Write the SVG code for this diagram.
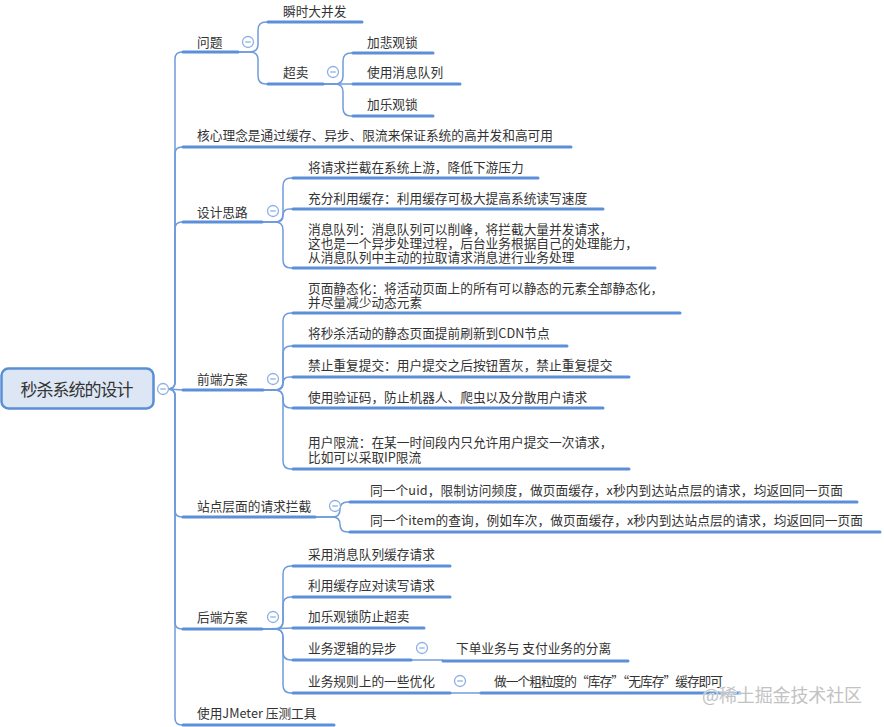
<svg xmlns="http://www.w3.org/2000/svg" width="884" height="727" viewBox="0 0 884 727">
<style>
.t{font-family:"Noto Sans CJK SC","Noto Sans",sans-serif;font-size:12.7px;fill:#333}
.root{font-family:"Noto Sans CJK SC","Noto Sans",sans-serif;font-size:17px;fill:#333;text-anchor:middle}
.u{stroke:#5b8fd8;stroke-width:3;stroke-linecap:round;fill:none}
.c{fill:none;stroke:#6f9bdc;stroke-width:1.5}
.b{fill:#fff;stroke:#8db0e3;stroke-width:1.3}
.bm{stroke:#8db0e3;stroke-width:1.3}
.wm{font-family:"Noto Sans CJK SC","Noto Sans",sans-serif;font-size:18px;fill:#c2c2c2;stroke:#fff;stroke-width:0.6;paint-order:stroke}
</style>
<defs>
<g id="btn"><circle class="b" cx="0" cy="0" r="5.5"/><line class="bm" x1="-2.8" y1="0" x2="2.8" y2="0"/></g>
</defs>
<rect width="884" height="727" fill="#fff"/>

<g id="connectors">
<path class="c" d="M163 389 L168 389"/>
<path class="c" d="M168 389 Q175 389 175 382 L175 59 Q175 52 182 52 L183 52"/>
<path class="c" d="M168 389 Q175 389 175 382 L175 154 Q175 147 182 147 L183 147"/>
<path class="c" d="M168 389 Q175 389 175 382 L175 229 Q175 222 182 222 L183 222"/>
<path class="c" d="M168 389 L183 390"/>
<path class="c" d="M168 389 Q175 389 175 396 L175 510 Q175 517 182 517 L183 517"/>
<path class="c" d="M168 389 Q175 389 175 396 L175 622 Q175 629 182 629 L183 629"/>
<path class="c" d="M168 389 Q175 389 175 396 L175 718 Q175 725 182 725 L183 725"/>

<path class="c" d="M238 52 L250 52 Q258 52 258 44 L258 30 Q258 22 266 22 L268 22"/>
<path class="c" d="M238 52 L250 52 Q258 52 258 60 L258 76 Q258 84 266 84 L268 84"/>

<path class="c" d="M323 84 L335 84 Q343 84 343 76 L343 61 Q343 53 351 53 L353 53"/>
<path class="c" d="M323 84 L353 84"/>
<path class="c" d="M323 84 L335 84 Q343 84 343 92 L343 108 Q343 116 351 116 L353 116"/>

<path class="c" d="M262 222 L275 222 Q283 222 283 214 L283 186 Q283 178 291 178 L293 178"/>
<path class="c" d="M262 222 L276.5 222 Q283 222 283 215.5 Q283 209 289.5 209 L293 209"/>
<path class="c" d="M262 222 L275 222 Q283 222 283 230 L283 260 Q283 268 291 268 L293 268"/>

<path class="c" d="M263 390 L275 390 Q283 390 283 382 L283 321 Q283 313 291 313 L293 313"/>
<path class="c" d="M263 390 L275 390 Q283 390 283 382 L283 354 Q283 346 291 346 L293 346"/>
<path class="c" d="M263 390 L276.5 390 Q283 390 283 383.5 Q283 377 289.5 377 L293 377"/>
<path class="c" d="M263 390 L275 390 Q283 390 283 398 L283 400 Q283 408 291 408 L293 408"/>
<path class="c" d="M263 390 L275 390 Q283 390 283 398 L283 461 Q283 469 291 469 L293 469"/>

<path class="c" d="M315 517 L332.5 517 Q340 517 340 509.5 Q340 502 347.5 502 L350 502"/>
<path class="c" d="M315 517 L332.5 517 Q340 517 340 524.5 Q340 532 347.5 532 L350 532"/>

<path class="c" d="M262 629 L275 629 Q283 629 283 621 L283 574 Q283 566 291 566 L293 566"/>
<path class="c" d="M262 629 L275 629 Q283 629 283 621 L283 605 Q283 597 291 597 L293 597"/>
<path class="c" d="M262 629 L293 628"/>
<path class="c" d="M262 629 L275 629 Q283 629 283 637 L283 652 Q283 660 291 660 L293 660"/>
<path class="c" d="M262 629 L275 629 Q283 629 283 637 L283 685 Q283 693 291 693 L293 693"/>

<path class="c" d="M411 660 L443 660"/>
<path class="c" d="M450 693 L481 693"/>
</g>

<g id="root">
<rect x="1.5" y="368.5" width="152" height="40" rx="7" fill="#dce6f4" stroke="#5a8fd6" stroke-width="2.5"/>
<text class="root" x="77" y="395.5" textLength="113">秒杀系统的设计</text>
<use href="#btn" x="163" y="389"/>
</g>

<g id="n-wenti">
<line class="u" x1="183" y1="52" x2="238" y2="52"/>
<text class="t" x="197" y="46.8">问题</text>
<use href="#btn" x="248" y="42"/>
</g>
<g id="n-shunshi">
<line class="u" x1="268" y1="22" x2="362" y2="22"/>
<text class="t" x="283" y="15.8">瞬时大并发</text>
</g>
<g id="n-chaomai">
<line class="u" x1="268" y1="84" x2="323" y2="84"/>
<text class="t" x="283" y="76.8">超卖</text>
<use href="#btn" x="333" y="72"/>
</g>
<g id="n-beiguan">
<line class="u" x1="353" y1="53" x2="433" y2="53"/>
<text class="t" x="367" y="46.8">加悲观锁</text>
</g>
<g id="n-xiaoxi">
<line class="u" x1="353" y1="84" x2="460" y2="84"/>
<text class="t" x="367" y="76.8">使用消息队列</text>
</g>
<g id="n-leguan">
<line class="u" x1="353" y1="116" x2="433" y2="116"/>
<text class="t" x="367" y="108.8">加乐观锁</text>
</g>

<g id="n-hexin">
<line class="u" x1="183" y1="147" x2="571" y2="147"/>
<text class="t" x="197" y="139.8" textLength="356">核心理念是通过缓存、异步、限流来保证系统的高并发和高可用</text>
</g>

<g id="n-sheji">
<line class="u" x1="183" y1="222" x2="262" y2="222"/>
<text class="t" x="197" y="216.8">设计思路</text>
<use href="#btn" x="273" y="211"/>
</g>
<g id="n-lanjie">
<line class="u" x1="293" y1="178" x2="538" y2="178"/>
<text class="t" x="308" y="171.8">将请求拦截在系统上游，降低下游压力</text>
</g>
<g id="n-huancun">
<line class="u" x1="293" y1="209" x2="603" y2="209"/>
<text class="t" x="308" y="202.8">充分利用缓存：利用缓存可极大提高系统读写速度</text>
</g>
<g id="n-mq">
<line class="u" x1="293" y1="268" x2="655" y2="268"/>
<text class="t" x="308" y="233.5">消息队列：消息队列可以削峰，将拦截大量并发请求，</text>
<text class="t" x="308" y="247.5">这也是一个异步处理过程，后台业务根据自己的处理能力，</text>
<text class="t" x="308" y="261.5">从消息队列中主动的拉取请求消息进行业务处理</text>
</g>

<g id="n-qianduan">
<line class="u" x1="183" y1="390" x2="263" y2="390"/>
<text class="t" x="197" y="383.8">前端方案</text>
<use href="#btn" x="273" y="379"/>
</g>
<g id="n-jingtai">
<line class="u" x1="293" y1="313" x2="680" y2="313"/>
<text class="t" x="308" y="292.8">页面静态化：将活动页面上的所有可以静态的元素全部静态化，</text>
<text class="t" x="308" y="306.8">并尽量减少动态元素</text>
</g>
<g id="n-cdn">
<line class="u" x1="293" y1="346" x2="567" y2="346"/>
<text class="t" x="308" y="337.8">将秒杀活动的静态页面提前刷新到CDN节点</text>
</g>
<g id="n-jinzhi">
<line class="u" x1="293" y1="377" x2="629" y2="377"/>
<text class="t" x="308" y="369.8">禁止重复提交：用户提交之后按钮置灰，禁止重复提交</text>
</g>
<g id="n-yanzheng">
<line class="u" x1="293" y1="408" x2="603" y2="408"/>
<text class="t" x="308" y="401.8">使用验证码，防止机器人、爬虫以及分散用户请求</text>
</g>
<g id="n-xianliu">
<line class="u" x1="293" y1="469" x2="629" y2="469"/>
<text class="t" x="308" y="446.8">用户限流：在某一时间段内只允许用户提交一次请求，</text>
<text class="t" x="308" y="461.8">比如可以采取IP限流</text>
</g>

<g id="n-zhandian">
<line class="u" x1="183" y1="517" x2="315" y2="517"/>
<text class="t" x="197" y="510.8">站点层面的请求拦截</text>
<use href="#btn" x="335" y="506"/>
</g>
<g id="n-uid">
<line class="u" x1="350" y1="502" x2="857" y2="502"/>
<text class="t" x="370" y="494.8" textLength="473">同一个uid，限制访问频度，做页面缓存，x秒内到达站点层的请求，均返回同一页面</text>
</g>
<g id="n-item">
<line class="u" x1="350" y1="532" x2="880" y2="532"/>
<text class="t" x="370" y="524.8" textLength="493">同一个item的查询，例如车次，做页面缓存，x秒内到达站点层的请求，均返回同一页面</text>
</g>

<g id="n-houduan">
<line class="u" x1="183" y1="629" x2="262" y2="629"/>
<text class="t" x="197" y="621.8">后端方案</text>
<use href="#btn" x="273" y="617"/>
</g>
<g id="n-caiyong">
<line class="u" x1="293" y1="566" x2="450" y2="566"/>
<text class="t" x="308" y="558.8">采用消息队列缓存请求</text>
</g>
<g id="n-liyong">
<line class="u" x1="293" y1="597" x2="450" y2="597"/>
<text class="t" x="308" y="589.8">利用缓存应对读写请求</text>
</g>
<g id="n-fangzhi">
<line class="u" x1="293" y1="628" x2="424" y2="628"/>
<text class="t" x="308" y="620.8">加乐观锁防止超卖</text>
</g>
<g id="n-yibu">
<line class="u" x1="293" y1="660" x2="411" y2="660"/>
<text class="t" x="308" y="652.8">业务逻辑的异步</text>
<use href="#btn" x="422" y="648"/>
</g>
<g id="n-fenli">
<line class="u" x1="443" y1="661" x2="628" y2="661"/>
<text class="t" x="456" y="652.8">下单业务与 支付业务的分离</text>
</g>
<g id="n-guize">
<line class="u" x1="293" y1="693" x2="450" y2="693"/>
<text class="t" x="308" y="685.8">业务规则上的一些优化</text>
<use href="#btn" x="460" y="681"/>
</g>
<g id="n-kucun">
<line class="u" x1="481" y1="693" x2="740" y2="693"/>
<text class="t" x="494" y="685.8" textLength="229">做一个粗粒度的“库存”“无库存”缓存即可</text>
</g>

<g id="n-jmeter">
<line class="u" x1="183" y1="725" x2="334" y2="725"/>
<text class="t" x="197" y="717.8">使用JMeter 压测工具</text>
</g>

<text class="wm" x="702" y="702" textLength="160">@稀土掘金技术社区</text>
</svg>
